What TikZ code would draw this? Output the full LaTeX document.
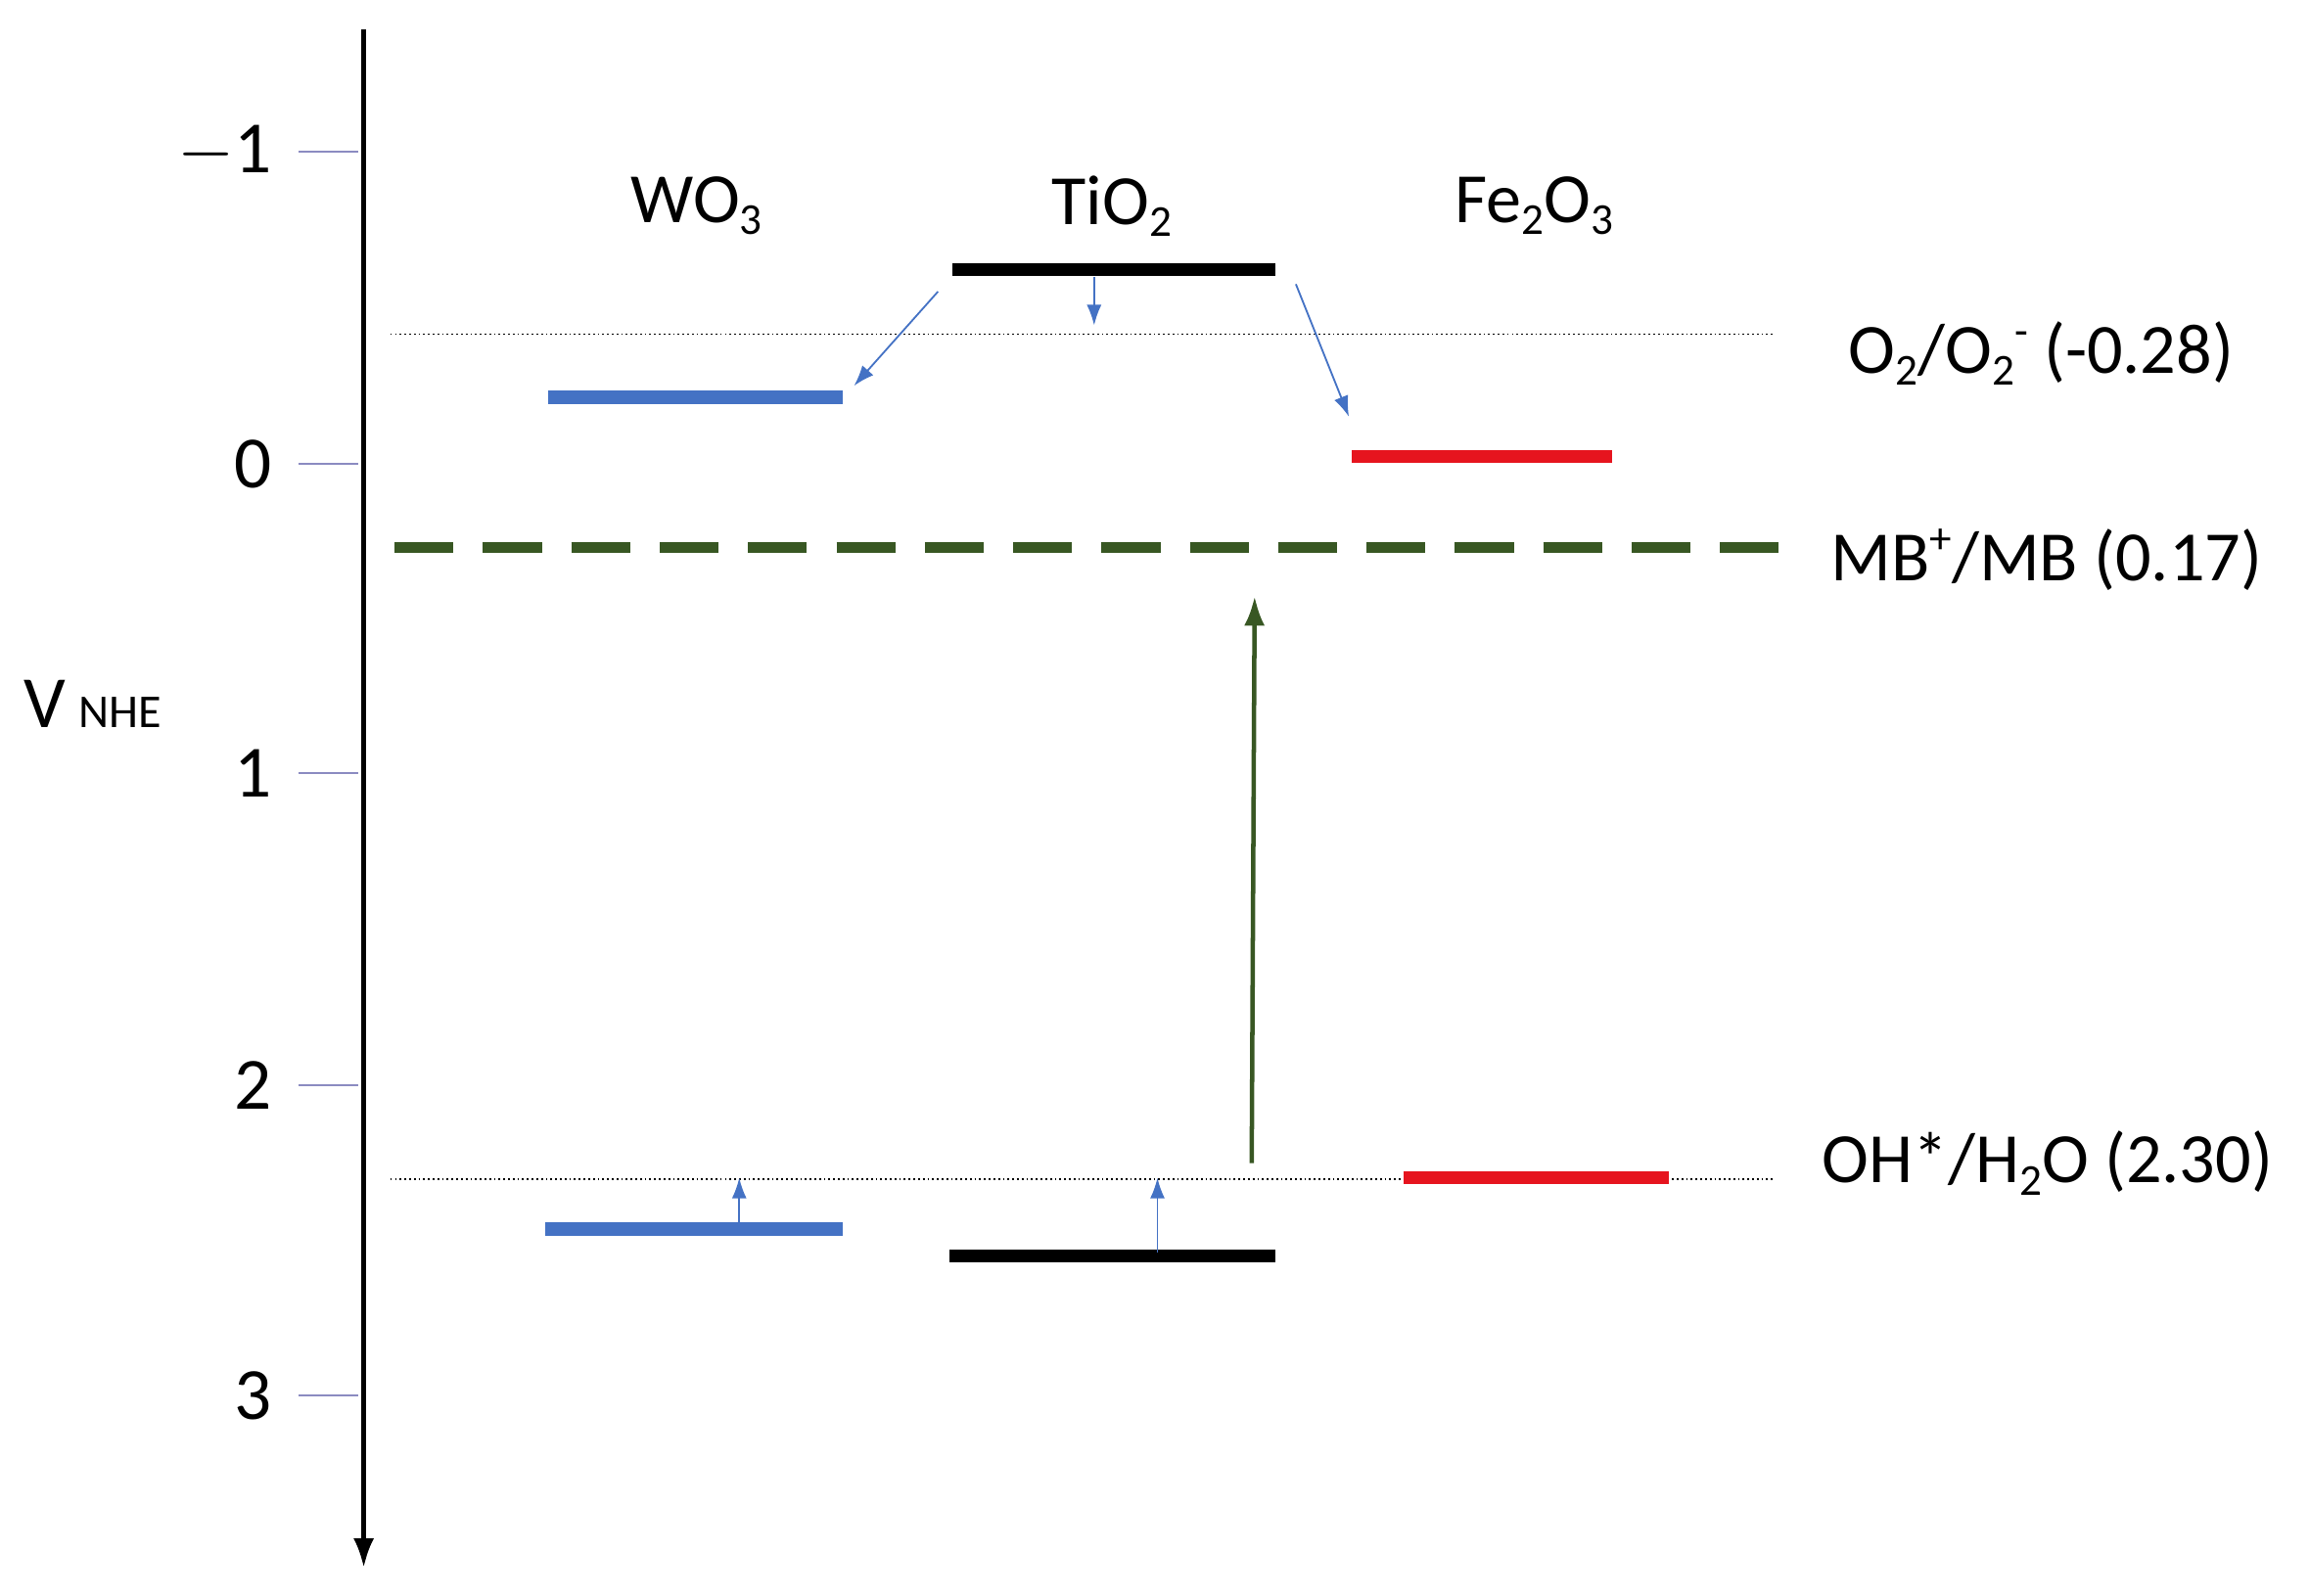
\documentclass[tikz,border=0pt]{standalone}
\usepackage{fontspec}
\setmainfont{Carlito}
\usetikzlibrary{arrows.meta}
\newcommand{\mylo}[1]{\raisebox{-0.35ex}{\fontsize{15}{17}\selectfont #1}}
\newcommand{\myhi}[1]{\raisebox{0.8ex}{\fontsize{15}{17}\selectfont #1}}
\begin{document}
\begin{tikzpicture}[x=0.5pt,y=-0.5pt,
  lbl/.style={font=\fontsize{24}{28}\selectfont, inner sep=0pt},
  tick/.style={draw=blue!30!gray!70, line width=0.7pt},
  bar/.style={line width=4.5pt},
  sm/.style={draw={rgb,255:red,68;green,114;blue,196}, line width=0.6pt, -{Latex[length=7pt,width=5pt]}},
  dot/.style={densely dotted, line width=0.6pt}]
\useasboundingbox (0,0) rectangle (1568,1084);
\definecolor{cb}{RGB}{68,114,196}
\definecolor{cr}{RGB}{230,20,30}
\definecolor{cg}{RGB}{56,87,35}
% axis
\coordinate (at) at (247,20); \coordinate (ab) at (247,1065);
\draw[line width=1.6pt,-{Latex[length=10pt,width=7pt]}] (at) -- (ab);
\foreach \v/\y/\t in {-1/103/$-$1, 0/315/0, 1/525/1, 2/737/2, 3/948/3}{
  \coordinate (t\y) at (203,\y); \coordinate (u\y) at (243,\y);
  \draw[tick] (t\y) -- (u\y);
  \node[lbl, anchor=east, font=\fontsize{25}{29}\selectfont] (n\y) at (185,\y) {\t};
}
\node[lbl, font=\fontsize{25}{29}\selectfont] (vnhe) at (63,478) {V\,{\fontsize{16}{18}\selectfont NHE}};
% labels
\node[lbl] (wo) at (473,140) {WO\mylo{3}};
\node[lbl] (ti) at (755,140) {TiO\mylo{2}};
\node[lbl] (fe) at (1042,140) {Fe\mylo{2}O\mylo{3}};
% reference lines
\coordinate (d1a) at (265,227); \coordinate (d1b) at (1205,227);
\draw[dot] (d1a) -- (d1b);
\node[lbl, anchor=west] (o2) at (1255,240) {O\mylo{2}/O\mylo{2}\myhi{-} (-0.28)};
\coordinate (mga) at (268,372); \coordinate (mgb) at (1222,372);
\draw[cg, line width=3.5pt, dash pattern=on 20pt off 10pt] (mga) -- (mgb);
\node[lbl, anchor=west] (mb) at (1243,380) {MB\myhi{+}/MB (0.17)};
\coordinate (d2a) at (265,801); \coordinate (d2b) at (1205,801);
\draw[dot] (d2a) -- (d2b);
\node[lbl, anchor=west] (oh) at (1237,790) {OH*/H\mylo{2}O (2.30)};
% bars
\coordinate (ta1) at (647,183); \coordinate (ta2) at (866,183);
\draw[bar,black] (ta1) -- (ta2);
\coordinate (wa1) at (372,270); \coordinate (wa2) at (572,270);
\draw[bar,cb] (wa1) -- (wa2);
\coordinate (fa1) at (918,310); \coordinate (fa2) at (1095,310);
\draw[bar,cr] (fa1) -- (fa2);
\coordinate (fb1) at (953,800); \coordinate (fb2) at (1133,800);
\draw[bar,cr] (fb1) -- (fb2);
\coordinate (wb1) at (370,835); \coordinate (wb2) at (572,835);
\draw[bar,cb] (wb1) -- (wb2);
\coordinate (tb1) at (645,853); \coordinate (tb2) at (866,853);
\draw[bar,black] (tb1) -- (tb2);
% green arrow
\coordinate (ga) at (850,790); \coordinate (gb) at (852,405);
\draw[cg, line width=1.5pt, -{Latex[length=10pt,width=7pt]}] (ga) -- (gb);
% small arrows
\coordinate (s1a) at (637,198); \coordinate (s1b) at (580,262);
\draw[sm] (s1a) -- (s1b);
\coordinate (s2a) at (743,188); \coordinate (s2b) at (743,221);
\draw[sm] (s2a) -- (s2b);
\coordinate (s3a) at (880,193); \coordinate (s3b) at (916,283);
\draw[sm] (s3a) -- (s3b);
\coordinate (s4a) at (502,833); \coordinate (s4b) at (502,800);
\draw[sm] (s4a) -- (s4b);
\coordinate (s5a) at (786,851); \coordinate (s5b) at (786,800);
\draw[sm] (s5a) -- (s5b);
\end{tikzpicture}
\end{document}
